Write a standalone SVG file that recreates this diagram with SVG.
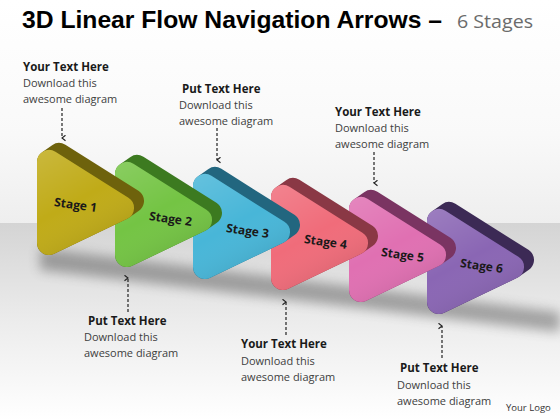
<svg xmlns="http://www.w3.org/2000/svg" width="560" height="420" viewBox="0 0 560 420">
<style>
.side{stroke-width:24;stroke-linejoin:round}
.shd{fill:url(#shade)}
.lbl{font-family:"Open Sans","Liberation Sans",sans-serif;font-weight:bold;font-size:12px;fill:#1a1a1a;text-anchor:middle}
.ht{font-family:"Open Sans","Liberation Sans",sans-serif;font-weight:bold;font-size:11.5px;fill:#1a1a1a}
.bt{font-family:"Open Sans","Liberation Sans",sans-serif;font-size:11px;fill:#404040}
.dash{stroke:#222;stroke-width:1.2;stroke-dasharray:3 2;fill:none;marker-end:url(#ah)}
</style>
<defs>
<linearGradient id="top" x1="0" y1="0" x2="0" y2="1">
<stop offset="0" stop-color="#ffffff"/><stop offset="0.6" stop-color="#f9f9f9"/><stop offset="1" stop-color="#eeeeee"/>
</linearGradient>
<linearGradient id="floor" x1="0" y1="0" x2="0" y2="1">
<stop offset="0" stop-color="#d4d4d4"/><stop offset="0.5" stop-color="#ececec"/><stop offset="1" stop-color="#ffffff"/>
</linearGradient>
<linearGradient id="shade" x1="0" y1="0" x2="0.5" y2="1">
<stop offset="0" stop-color="#ffffff" stop-opacity="0.16"/><stop offset="0.55" stop-color="#ffffff" stop-opacity="0"/><stop offset="1" stop-color="#000000" stop-opacity="0.1"/>
</linearGradient>
<filter id="blur" x="-20%" y="-100%" width="140%" height="300%"><feGaussianBlur stdDeviation="6"/></filter>
<path id="tri" d="M0,12 L0,93 A12,12 0 0 0 17.19,103.82 L90.19,68.82 A12,12 0 0 0 91.40,47.85 L18.40,1.85 A12,12 0 0 0 0,12 Z"/>
<polygon id="ext" points="12,12 12,93 85,58 95,51 22,5"/>
<marker id="ah" viewBox="0 0 10 10" refX="5" refY="8" markerWidth="7" markerHeight="7" orient="auto-start-reverse" markerUnits="userSpaceOnUse">
<path d="M1,3 L5,8 L9,3" fill="none" stroke="#222" stroke-width="1.6"/>
</marker>
</defs>
<rect x="0" y="0" width="560" height="224" fill="url(#top)"/>
<rect x="0" y="223" width="560" height="197" fill="url(#floor)"/>
<polygon points="40,248 560,312 560,332 40,270" fill="#4a4a4a" opacity="0.45" filter="url(#blur)"/>

<text x="22" y="28" font-family="'Liberation Sans',sans-serif" font-weight="bold" font-size="24" fill="#000" textLength="420" lengthAdjust="spacingAndGlyphs">3D Linear Flow Navigation Arrows –</text>
<text x="457" y="28" font-family="'Open Sans',sans-serif" font-size="19" fill="#6b6b6b" textLength="76" lengthAdjust="spacingAndGlyphs">6 Stages</text>

<g id="stage6" transform="translate(427,209)">
<use href="#ext" class="side" fill="#3c2a55" stroke="#3c2a55"/>
<use href="#tri" fill="#8a66b4"/>
<use href="#tri" class="shd"/>
<text class="lbl" transform="translate(54,61) rotate(8)">Stage 6</text>
</g>
<g id="stage5" transform="translate(349,197)">
<use href="#ext" class="side" fill="#7a3462" stroke="#7a3462"/>
<use href="#tri" fill="#e070b2"/>
<use href="#tri" class="shd"/>
<text class="lbl" transform="translate(53,62) rotate(8)">Stage 5</text>
</g>
<g id="stage4" transform="translate(271,185)">
<use href="#ext" class="side" fill="#8a3845" stroke="#8a3845"/>
<use href="#tri" fill="#f06c7a"/>
<use href="#tri" class="shd"/>
<text class="lbl" transform="translate(54,61) rotate(8)">Stage 4</text>
</g>
<g id="stage3" transform="translate(193,174)">
<use href="#ext" class="side" fill="#22667f" stroke="#22667f"/>
<use href="#tri" fill="#48b6d8"/>
<use href="#tri" class="shd"/>
<text class="lbl" transform="translate(54,61) rotate(8)">Stage 3</text>
</g>
<g id="stage2" transform="translate(115,162)">
<use href="#ext" class="side" fill="#3c7a20" stroke="#3c7a20"/>
<use href="#tri" fill="#74c444"/>
<use href="#tri" class="shd"/>
<text class="lbl" transform="translate(55,61) rotate(8)">Stage 2</text>
</g>
<g id="stage1" transform="translate(37,150)">
<use href="#ext" class="side" fill="#6e620c" stroke="#6e620c"/>
<use href="#tri" fill="#c0ab18"/>
<use href="#tri" class="shd"/>
<text class="lbl" transform="translate(38,59) rotate(8)">Stage 1</text>
</g>

<g id="connectors">
<line class="dash" x1="62" y1="108" x2="62" y2="138"/>
<line class="dash" x1="217" y1="128" x2="217" y2="160"/>
<line class="dash" x1="374" y1="152" x2="374" y2="183"/>
<line class="dash" x1="128" y1="312" x2="128" y2="278"/>
<line class="dash" x1="286" y1="335" x2="286" y2="302"/>
<line class="dash" x1="442" y1="358" x2="442" y2="326"/>
</g>

<g id="note1">
<text class="ht" x="23" y="71">Your Text Here</text>
<text class="bt" x="23" y="87">Download this</text>
<text class="bt" x="23" y="103">awesome diagram</text>
</g>
<g id="note2">
<text class="ht" x="182" y="93">Put Text Here</text>
<text class="bt" x="179" y="109">Download this</text>
<text class="bt" x="179" y="125">awesome diagram</text>
</g>
<g id="note3">
<text class="ht" x="335" y="116">Your Text Here</text>
<text class="bt" x="335" y="132">Download this</text>
<text class="bt" x="335" y="148">awesome diagram</text>
</g>
<g id="note4">
<text class="ht" x="88" y="325">Put Text Here</text>
<text class="bt" x="84" y="341">Download this</text>
<text class="bt" x="84" y="357">awesome diagram</text>
</g>
<g id="note5">
<text class="ht" x="241" y="348">Your Text Here</text>
<text class="bt" x="241" y="365">Download this</text>
<text class="bt" x="241" y="381">awesome diagram</text>
</g>
<g id="note6">
<text class="ht" x="400" y="372">Put Text Here</text>
<text class="bt" x="397" y="389">Download this</text>
<text class="bt" x="397" y="405">awesome diagram</text>
</g>
<text x="506" y="411" font-family="'Open Sans',sans-serif" font-size="9.5" fill="#333">Your Logo</text>
</svg>
